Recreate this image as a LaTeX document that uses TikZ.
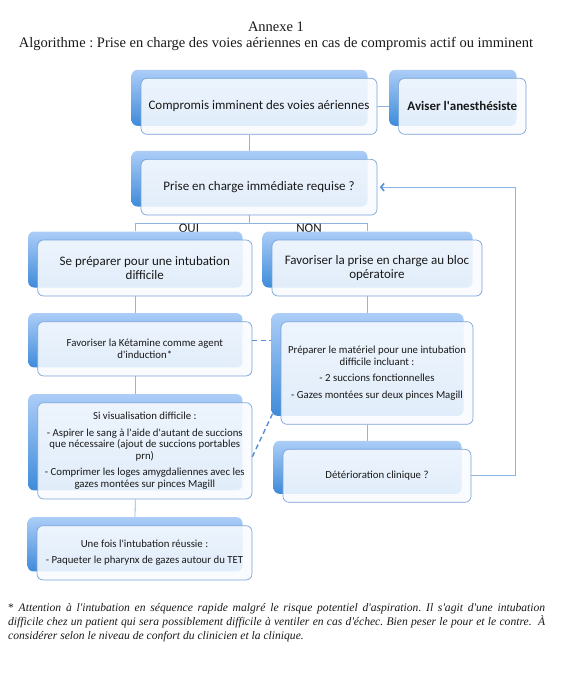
\documentclass[tikz,border=0pt]{standalone}
\usepackage{fontspec}
\setmainfont{Liberation Serif}
\newfontfamily\boxfont{Carlito}
\usetikzlibrary{arrows.meta,calc,backgrounds}
\definecolor{backtop}{RGB}{172,205,247}
\definecolor{backbot}{RGB}{62,139,218}
\definecolor{edge}{RGB}{122,163,217}
\definecolor{wire}{RGB}{142,180,226}
\definecolor{dashblue}{RGB}{88,142,208}
\definecolor{cardfill}{RGB}{248,251,255}
\definecolor{ink}{RGB}{25,25,25}
\newcommand{\ap}{\textquotesingle}
\frenchspacing
% back card + front card, front centred at (#2,#3)
\newcommand{\pblock}[7]{%
  \node[backbox, minimum width=#4pt, minimum height=#5pt] (#1b) at ($(#2,#3)+(-9.5,-8.5)$) {};
  \node[frontbox, #6, minimum width=#4pt, minimum height=#5pt] (#1) at (#2,#3) {#7};
}

\begin{document}
\begin{tikzpicture}[x=1pt, y=-1pt,
    backbox/.style={rounded corners=6pt, top color=backtop, bottom color=backbot, inner sep=0pt},
    frontbox/.style={draw=edge, line width=0.7pt, rounded corners=6pt, fill=cardfill, fill opacity=0.88,
      text opacity=1, text=ink, align=center, inner sep=0pt},
    bigtxt/.style={font=\boxfont\fontsize{13}{14.3}\selectfont},
    smalltxt/.style={font=\boxfont\fontsize{10.8}{11.5}\selectfont},
    titletxt/.style={font=\fontsize{14.5}{16}\selectfont, text=ink, inner sep=0pt},
    notetxt/.style={font=\itshape\fontsize{11.6}{14}\selectfont, text=ink, inner sep=0pt},
    wire/.style={draw=wire, line width=0.8pt},
    dashline/.style={draw=dashblue, line width=1.4pt, dash pattern=on 5pt off 3.5pt}]
  \useasboundingbox (0,0) rectangle (562,678);

  \node[titletxt, anchor=base] (title) at (276,31) {Annexe 1};
  \node[titletxt, anchor=base] (subtitle) at (276,47)
    {Algorithme : Prise en charge des voies aériennes en cas de compromis actif ou imminent};

  % cards
  \pblock{comp}{259}{106.3}{236}{56}{bigtxt}{Compromis imminent des voies aériennes}
  \pblock{avis}{462.3}{106.3}{127.4}{56}{bigtxt}{\bfseries Aviser l\ap anesthésiste}
  \pblock{prise}{259}{187.2}{236}{55.7}{bigtxt}{Prise en charge immédiate requise ?}
  \pblock{intub}{144.8}{268}{214.4}{56}{bigtxt}{Se préparer pour une intubation\\difficile}
  \pblock{bloc}{377}{268}{210}{56}{bigtxt}{Favoriser la prise en charge au bloc\\opératoire}
  \pblock{keta}{144.8}{348.8}{214.3}{54.3}{smalltxt}{Favoriser la Kétamine comme agent\\d\ap induction*}
  \pblock{visu}{144.8}{450.8}{214.3}{96.3}{smalltxt}{Si visualisation difficile :\\[5pt]
    - Aspirer le sang à l\ap aide d\ap autant de succions\\que nécessaire (ajout de succions portables\\prn)\\[5pt]
    - Comprimer les loges amygdaliennes avec les\\gazes montées sur pinces Magill}
  \pblock{paqu}{144.5}{552.8}{215}{54.3}{smalltxt}{Une fois l\ap intubation réussie :\\[5pt]
    - Paqueter le pharynx de gazes autour du TET}
  \pblock{mater}{377}{373}{192}{102.6}{smalltxt}{Préparer le matériel pour une intubation\\difficile incluant :\\[5pt]
    - 2 succions fonctionnelles\\[5pt]- Gazes montées sur deux pinces Magill}
  \pblock{deter}{377}{475.8}{188}{53}{smalltxt}{Détérioration clinique ?}

  % connectors
  \begin{scope}[on background layer]
    \draw[wire] (compb.center |- comp.south) -- (priseb.north);
    \draw[wire] (comp.east) -- (avisb.west |- comp.east);
    \draw[wire] (priseb.center |- prise.south) -- ++(0,7.7) coordinate (split);
    \draw[wire] (intubb.north) |- (split) -| (blocb.north);
    \node[bigtxt, text=ink, inner sep=0pt] (oui) at (189,228.8) {OUI};
    \node[bigtxt, text=ink, inner sep=0pt] (non) at (309,228.8) {NON};
    \draw[wire] (intubb.center |- intub.south) -- (ketab.north);
    \draw[wire] (ketab.center |- keta.south) -- (visub.north);
    \draw[wire] (visub.center |- visu.south) -- (paqub.north);
    \draw[wire] (blocb.center |- bloc.south) -- (materb.north);
    \draw[wire] (materb.center |- mater.south) -- (deterb.north);
    \draw[wire, -{Straight Barb[length=3.2pt, width=7.5pt, line width=1.6pt, color=dashblue]}, shorten >=2.5pt]
      (deter.east) -- ++(44,0) |- (prise.east);
  \end{scope}
  \draw[dashline] (keta.east |- ketab.center) -- (materb.west |- ketab.center);
  \draw[dashline] ($(visu.east)+(0,6)$) -- ($(materb.south west)+(3,-6)$);

  % footnote
  \node[notetxt, anchor=base west, text width=537pt, align=justify] (note) at (8,611.5)
    {\textup{*} Attention à l\ap intubation en séquence rapide malgré le risque potentiel d\ap aspiration. Il s\ap agit d\ap une intubation\linebreak difficile chez un patient qui sera possiblement difficile à ventiler en cas d\ap échec. Bien peser le pour et le contre.~ À\linebreak considérer selon le niveau de confort du clinicien et la clinique.};
\end{tikzpicture}
\end{document}
